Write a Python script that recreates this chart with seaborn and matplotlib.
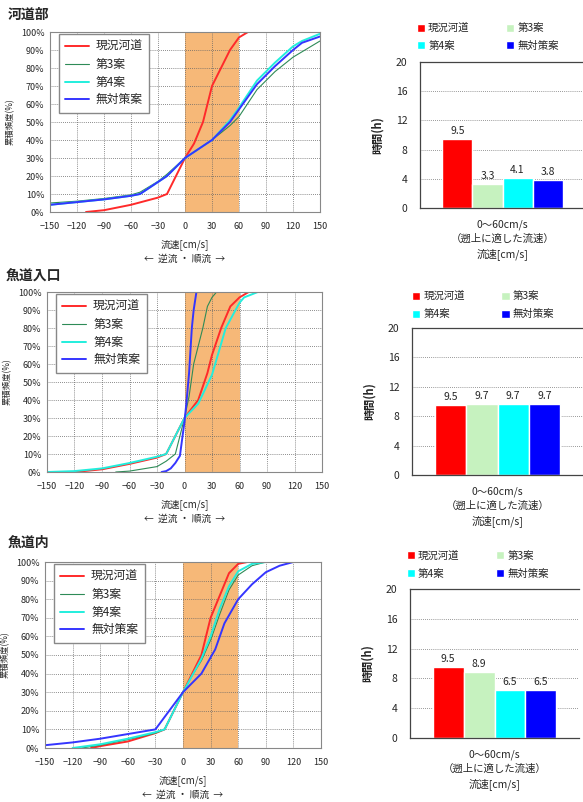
import pandas as pd
import numpy as np
import matplotlib
matplotlib.use("Agg")
import matplotlib.pyplot as plt
from matplotlib.ticker import FuncFormatter
import seaborn as sns

sns.set_style("white")
plt.rcParams['font.family'] = ['Noto Sans CJK JP', 'DejaVu Sans']

W, H = 583, 802

cases = ["現況河道", "第3案", "第4案", "無対策案"]
titles = ["河道部", "魚道入口", "魚道内"]
bar_category = "0～60cm/s\n（遡上に適した流速）"

# 河道部 - cumulative frequency curves (x: cm/s, y: %)
kado_red_x = [-110, -90, -60, -30, -20, -10, 0, 10, 20, 25, 30, 40, 50, 60, 70, 120]
kado_red_y = [0, 1, 4, 8, 10, 20, 30, 38, 50, 60, 70, 80, 90, 97, 100, 100]
kado_green_x = [-150, -120, -90, -60, -50, -30, -20, 0, 30, 50, 60, 80, 100, 120, 140, 150]
kado_green_y = [5, 6, 7.5, 9.5, 11, 17, 21, 30, 40, 48, 53, 68, 78, 86, 92, 95]
kado_cyan_x = [-150, -120, -90, -60, -50, -20, 0, 30, 50, 60, 80, 100, 120, 130, 150]
kado_cyan_y = [4, 5.5, 7, 9, 10, 20, 30, 40, 51, 58, 73, 83, 92, 95, 99]
kado_blue_x = [-150, -120, -90, -60, -50, -20, 0, 30, 50, 60, 80, 100, 120, 130, 150]
kado_blue_y = [4, 5.5, 7, 9, 10, 20, 30, 40, 50, 57, 71, 81, 90, 94, 97.5]

# 魚道入口
iri_red_x = [-120, -90, -60, -30, -20, -10, 0, 15, 25, 30, 40, 50, 60, 70]
iri_red_y = [0, 1.5, 4.5, 8, 10, 20, 30, 40, 55, 65, 80, 92, 97, 100]
iri_green_x = [-75, -60, -30, -20, -10, 0, 5, 10, 20, 25, 30, 35]
iri_green_y = [0, 0.5, 3, 6, 10, 30, 42, 60, 80, 92, 97, 100]
iri_cyan_x = [-150, -120, -90, -60, -30, -20, -10, 0, 15, 30, 45, 60, 65, 80]
iri_cyan_y = [0, 0.5, 2, 5, 8.5, 10, 20, 30, 38, 54, 80, 94, 97, 100]
iri_blue_x = [-25, -20, -15, -10, -5, 0, 2, 5, 8, 10, 13]
iri_blue_y = [0, 0.5, 2, 5, 9, 28, 38, 55, 80, 90, 100]

# 魚道内
nai_red_x = [-100, -90, -60, -30, -20, 0, 10, 20, 30, 40, 50, 60, 70]
nai_red_y = [0, 1, 3.5, 8, 10, 30, 40, 50, 70, 82, 94, 99, 100]
nai_green_x = [-110, -90, -60, -30, -20, 0, 10, 20, 30, 40, 50, 60, 75, 90]
nai_green_y = [0, 1.5, 4.5, 8, 10, 30, 39, 47, 58, 72, 85, 93, 98, 100]
nai_cyan_x = [-120, -90, -60, -30, -20, 0, 10, 20, 30, 40, 50, 60, 75, 90]
nai_cyan_y = [0, 2, 5, 8.5, 10, 30, 39, 48, 60, 75, 87, 95, 99, 100]
nai_blue_x = [-150, -120, -90, -60, -30, 0, 20, 35, 45, 60, 75, 90, 105, 120, 150]
nai_blue_y = [1.5, 3, 5, 7.5, 10, 30, 40, 53, 67, 80, 88, 94.5, 98, 100, 100]

# hours in the 0-60 cm/s range
kado_hours = [9.5, 3.3, 4.1, 3.8]
iri_hours = [9.5, 9.7, 9.7, 9.7]
nai_hours = [9.5, 8.9, 6.5, 6.5]

line_colors = ["#ff2a2a", "#2e8b57", "#22eedd", "#3535ff"]
line_widths = [1.4, 0.8, 1.4, 1.4]
bar_colors = ["#ff0000", "#c6f2bf", "#00ffff", "#0000ff"]
band_color = "#f6b878"


def frac(l, t, r, b):
    return [l / W, 1 - b / H, (r - l) / W, (b - t) / H]


def pct(v, pos):
    return '{:.0f}%'.format(v)


def line_panel(fig, box, curves):
    ax = fig.add_axes(frac(*box))
    ax.axvspan(0, 60, color=band_color, zorder=0.3, lw=0)
    for name, (xs, ys), col, lw in zip(cases, curves, line_colors, line_widths):
        sns.lineplot(x=xs, y=ys, color=col, lw=lw, label=name, ax=ax,
                     estimator=None, sort=False)
    ax.set_xlim(-150, 150)
    ax.set_ylim(0, 100)
    ax.set_xticks(range(-150, 151, 30))
    ax.set_yticks(range(0, 101, 10))
    ax.yaxis.set_major_formatter(FuncFormatter(pct))
    ax.set_axisbelow(True)
    ax.grid(True, ls=(0, (1, 1.5)), color="#666666", lw=0.6)
    ax.tick_params(axis="x", length=0, labelsize=6.5, pad=7)
    ax.tick_params(axis="y", length=0, labelsize=6.5, pad=4)
    for s in ax.spines.values():
        s.set_color("#888888")
        s.set_linewidth(0.8)
    ax.set_xlabel("流速[cm/s]\n←  逆流 ・ 順流  →", fontsize=7, labelpad=6, linespacing=1.5)
    ax.set_ylabel("累積頻度(%)", fontsize=6, labelpad=4)
    ax.legend(loc="upper left", bbox_to_anchor=(0.026, 1.0), fontsize=8.5, frameon=True,
              fancybox=False, edgecolor="#888888", framealpha=1, handlelength=2.0,
              labelspacing=0.4, borderpad=0.55, handletextpad=0.6, borderaxespad=0.15)
    return ax


def bar_panel(fig, box, values, legend_x, legend_gap):
    ax = fig.add_axes(frac(*box))
    df = pd.DataFrame({"range": [bar_category] * 4, "case": cases, "hours": values})
    sns.barplot(data=df, x="range", y="hours", hue="case", hue_order=cases,
                palette=bar_colors, saturation=1, width=0.73, gap=0, ax=ax)
    for c in ax.containers:
        ax.bar_label(c, fmt="%.1f", padding=2, fontsize=7.5)
    ax.set_ylim(0, 20)
    ax.set_yticks(range(0, 21, 4))
    ax.set_axisbelow(True)
    ax.yaxis.grid(True, ls=(0, (1, 1.5)), color="#777777", lw=0.6)
    ax.tick_params(axis="x", length=0, labelsize=7.5, pad=8)
    ax.tick_params(axis="y", length=0, labelsize=7.5, pad=9)
    for lab in ax.get_xticklabels():
        lab.set_linespacing(1.5)
    ax.spines["right"].set_visible(False)
    for s in ["left", "top", "bottom"]:
        ax.spines[s].set_color("#444444")
        ax.spines[s].set_linewidth(0.9)
    ax.set_xlabel("流速[cm/s]", fontsize=7.5, labelpad=3)
    ax.set_ylabel("時間(h)", fontsize=8, fontweight="bold", labelpad=9)
    handles, labels = ax.get_legend_handles_labels()
    order = [0, 2, 1, 3]
    ax.legend([handles[i] for i in order], [labels[i] for i in order], ncol=2,
              loc="lower left", bbox_to_anchor=(legend_x, 1 + legend_gap), frameon=False,
              fontsize=7.5, handlelength=0.8, handleheight=0.8, handletextpad=0.3,
              columnspacing=3.5, labelspacing=0.75, borderaxespad=0, borderpad=0)
    return ax


fig = plt.figure(figsize=(W / 100, H / 100), dpi=100)

line_panel(fig, (50, 32, 320, 212), [(kado_red_x, kado_red_y), (kado_green_x, kado_green_y),
                                     (kado_cyan_x, kado_cyan_y), (kado_blue_x, kado_blue_y)])
line_panel(fig, (47, 292, 322, 472), [(iri_red_x, iri_red_y), (iri_green_x, iri_green_y),
                                      (iri_cyan_x, iri_cyan_y), (iri_blue_x, iri_blue_y)])
line_panel(fig, (45, 562, 321, 748), [(nai_red_x, nai_red_y), (nai_green_x, nai_green_y),
                                      (nai_cyan_x, nai_cyan_y), (nai_blue_x, nai_blue_y)])

bar_panel(fig, (420, 62, 585, 208), kado_hours, -0.02, 0.075)
bar_panel(fig, (412, 328, 583, 475), iri_hours, 0.0, 0.06)
bar_panel(fig, (410, 589, 579, 738), nai_hours, -0.02, 0.07)

fig.text(8 / W, 1 - 15 / H, titles[0], fontsize=10, fontweight="bold", va="center")
fig.text(6 / W, 1 - 277 / H, titles[1], fontsize=10, fontweight="bold", va="center")
fig.text(8 / W, 1 - 543 / H, titles[2], fontsize=10, fontweight="bold", va="center")

fig.savefig("out.png", dpi=100)
